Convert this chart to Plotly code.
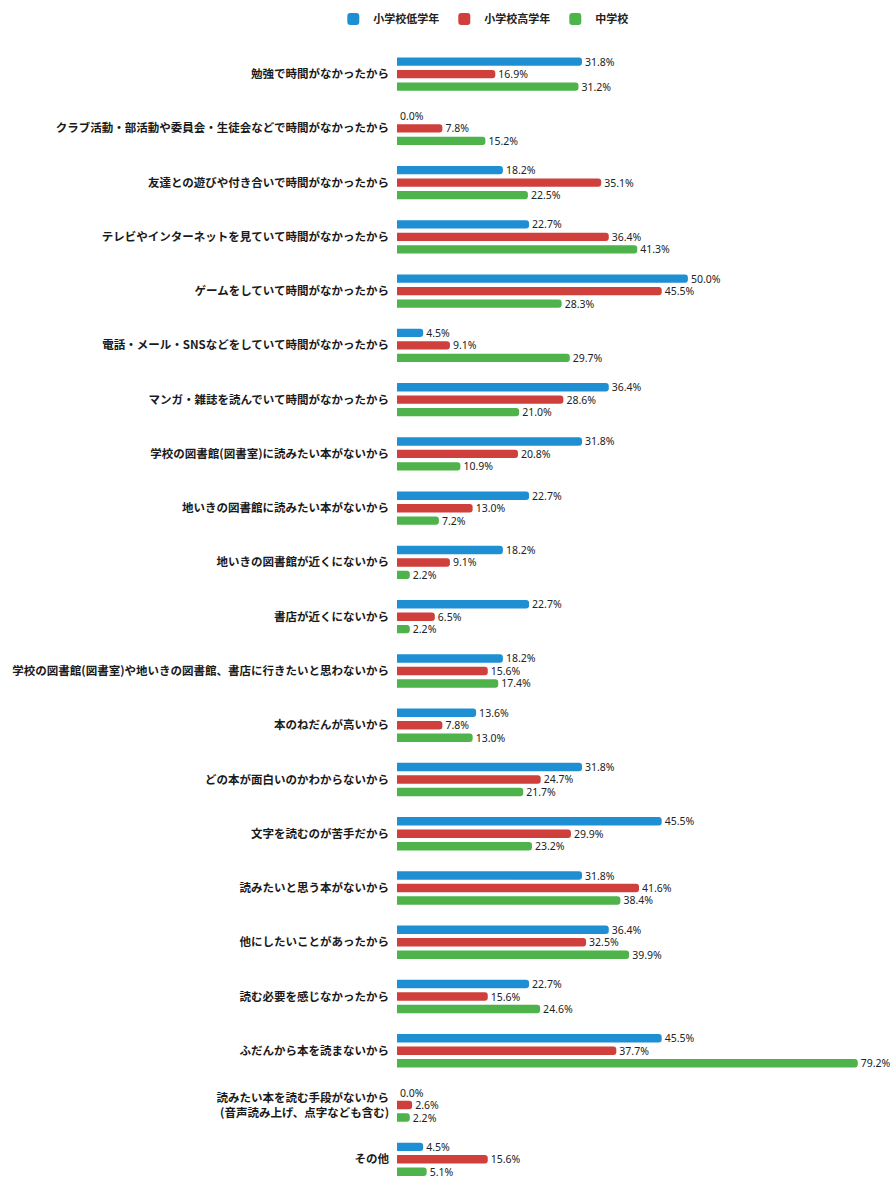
import plotly.graph_objects as go

categories = [
    "勉強で時間がなかったから",
    "クラブ活動・部活動や委員会・生徒会などで時間がなかったから",
    "友達との遊びや付き合いで時間がなかったから",
    "テレビやインターネットを見ていて時間がなかったから",
    "ゲームをしていて時間がなかったから",
    "電話・メール・SNSなどをしていて時間がなかったから",
    "マンガ・雑誌を読んでいて時間がなかったから",
    "学校の図書館(図書室)に読みたい本がないから",
    "地いきの図書館に読みたい本がないから",
    "地いきの図書館が近くにないから",
    "書店が近くにないから",
    "学校の図書館(図書室)や地いきの図書館、書店に行きたいと思わないから",
    "本のねだんが高いから",
    "どの本が面白いのかわからないから",
    "文字を読むのが苦手だから",
    "読みたいと思う本がないから",
    "他にしたいことがあったから",
    "読む必要を感じなかったから",
    "ふだんから本を読まないから",
    "読みたい本を読む手段がないから<br>(音声読み上げ、点字なども含む)",
    "その他",
]

series_names = ["小学校低学年", "小学校高学年", "中学校"]

lower_elem = [31.8, 0.0, 18.2, 22.7, 50.0, 4.5, 36.4, 31.8, 22.7, 18.2, 22.7,
              18.2, 13.6, 31.8, 45.5, 31.8, 36.4, 22.7, 45.5, 0.0, 4.5]
upper_elem = [16.9, 7.8, 35.1, 36.4, 45.5, 9.1, 28.6, 20.8, 13.0, 9.1, 6.5,
              15.6, 7.8, 24.7, 29.9, 41.6, 32.5, 15.6, 37.7, 2.6, 15.6]
junior_high = [31.2, 15.2, 22.5, 41.3, 28.3, 29.7, 21.0, 10.9, 7.2, 2.2, 2.2,
               17.4, 13.0, 21.7, 23.2, 38.4, 39.9, 24.6, 79.2, 2.2, 5.1]

colors = ["#1f8fd3", "#cf3f3b", "#4db34a"]

fig = go.Figure()
for name, vals, col in zip(series_names, [lower_elem, upper_elem, junior_high], colors):
    fig.add_trace(go.Bar(
        y=categories, x=vals, name=name, orientation="h",
        marker=dict(color=col, line=dict(width=0), cornerradius=3),
        text=vals, texttemplate="%{x:.1f}%", textposition="outside",
        textfont=dict(family="Liberation Sans Narrow, Noto Sans, sans-serif",
                      size=10.5, color="#222222"),
        constraintext="none", cliponaxis=False,
    ))

fig.update_layout(
    width=895, height=1187,
    margin=dict(l=397, r=0, t=47, b=6),
    paper_bgcolor="white", plot_bgcolor="white",
    barmode="group", bargap=0.31, bargroupgap=0.33,
    showlegend=True,
    legend=dict(orientation="h", x=0.54, xanchor="center", xref="container",
                y=0.984, yanchor="middle", yref="container",
                font=dict(family="Noto Sans CJK JP", size=11, color="#222", weight="bold"),
                itemwidth=30, tracegroupgap=0),
    font=dict(family="Noto Sans CJK JP", color="#222"),
)
fig.update_xaxes(range=[0, 85.6], showgrid=False, zeroline=False, showticklabels=False,
                 showline=False, fixedrange=True, automargin=False)
fig.update_yaxes(categoryorder="array", categoryarray=categories,
                 range=[20.4, -0.5], showgrid=False, zeroline=False, showline=False,
                 ticks="", ticklabelstandoff=7, automargin=False, fixedrange=True,
                 tickfont=dict(family="Noto Sans CJK JP", size=11.5, color="#1a1a1a",
                               weight="bold"))

fig.write_html("out.html", config={"displayModeBar": False},
               post_script="document.body.style.margin='0';document.body.style.overflow='hidden';")
